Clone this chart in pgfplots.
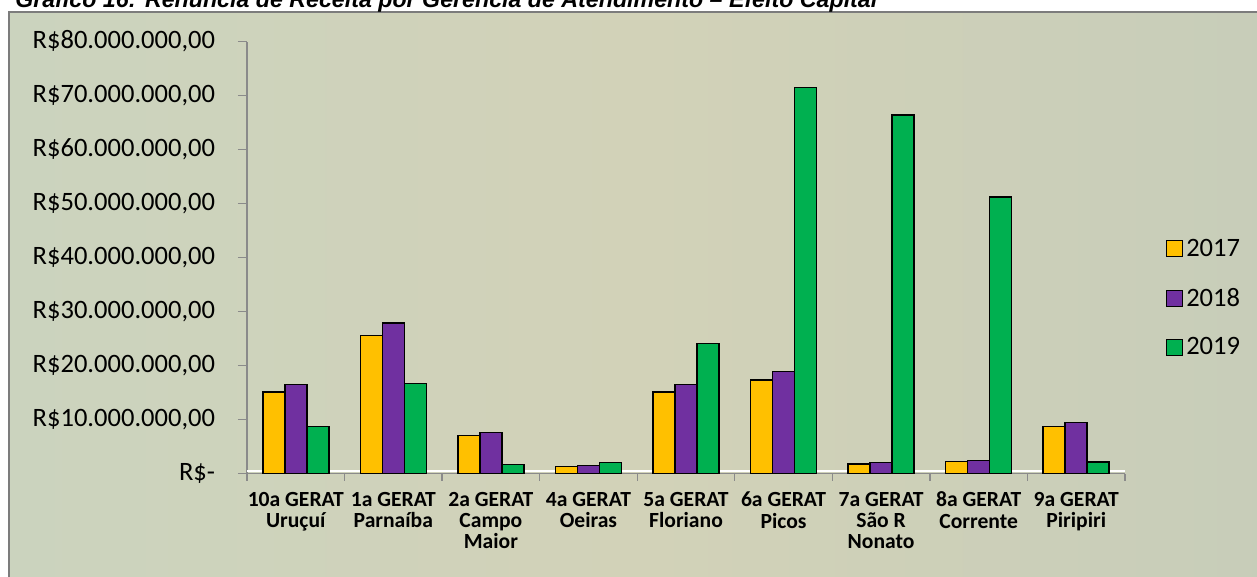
\documentclass[border=0pt]{standalone}
\usepackage{pgfplots}
\pgfplotsset{compat=1.18}
\usepackage{fontspec}
\setmainfont{Carlito}
\newfontfamily\titlefont{Liberation Sans}

\definecolor{c2017}{HTML}{FFC000}
\definecolor{c2018}{HTML}{7030A0}
\definecolor{c2019}{HTML}{00B050}
\definecolor{axisgray}{HTML}{8A8A8A}
\definecolor{bgA}{RGB}{203,211,190}
\definecolor{bgB}{RGB}{210,210,184}
\definecolor{bgC}{RGB}{199,205,185}

% Renúncia de receita (R$ milhões) por GERAT
\pgfplotstableread{
idx y2017 y2018 y2019
0   15.1  16.5   8.7
1   25.6  27.9  16.7
2    7.0   7.6   1.7
3    1.3   1.5   2.0
4   15.1  16.5  24.1
5   17.3  18.9  71.5
6    1.8   2.0  66.4
7    2.2   2.4  51.2
8    8.7   9.4   2.1
}\gerat

\pgfplotsset{
  sq legend/.style={legend image code/.code={%
    \draw[##1,line width=0.8pt] (0pt,-6pt) rectangle (12pt,6pt);}},
}

\begin{document}
\begin{tikzpicture}
% page: 942.75pt x 432pt, origin at top-left corner
\useasboundingbox (0,0) rectangle (942.75pt,-432pt);

% chart area background with frame on top and left
\shade[left color=bgA, right color=bgC, middle color=bgB]
  (6.75pt,-9pt) rectangle (960pt,-450pt);
\draw[axisgray!90!black, line width=1.5pt]
  (6.75pt,-450pt) -- (6.75pt,-9pt) -- (960pt,-9pt);

% caption above the chart
\node[anchor=base west, inner sep=0pt,
      font=\titlefont\bfseries\itshape\fontsize{17.4}{20}\selectfont]
  at (11.25pt,-5.8pt)
  {Gráfico 16: Renúncia de Receita por Gerência de Atendimento – Efeito Capital};

\begin{axis}[
  at={(185.25pt,-355.125pt)}, anchor=south west,
  scale only axis, width=658.5pt, height=324pt,
  xmin=-0.5, xmax=8.5, ymin=0, ymax=80,
  ybar=0pt, bar width=16.5pt,
  axis lines*=left,
  axis line style={draw=axisgray, line width=1.3pt},
  tick align=outside,
  major tick length=6.75pt,
  ytick={0,10,...,80},
  yticklabels={R\$-,{R\$10.000.000,00},{R\$20.000.000,00},{R\$30.000.000,00},
    {R\$40.000.000,00},{R\$50.000.000,00},{R\$60.000.000,00},{R\$70.000.000,00},
    {R\$80.000.000,00}},
  ytick style={draw=axisgray, line width=1pt},
  yticklabel style={font=\fontsize{19.9}{23}\selectfont, inner sep=0pt, xshift=-17pt},
  xtick={0,...,8},
  xticklabels={{10a GERAT\\Uruçuí},{1a GERAT\\Parnaíba},{2a GERAT\\Campo\\Maior},
    {4a GERAT\\Oeiras},{5a GERAT\\Floriano},{6a GERAT\\Picos},
    {7a GERAT\\São R\\Nonato},{8a GERAT\\Corrente},{9a GERAT\\Piripiri}},
  xtick style={draw=none},
  xticklabel style={font=\bfseries\fontsize{16.2}{16.1}\selectfont, align=center,
    inner sep=0pt, yshift=-6.8pt},
  extra x ticks={-0.5,0.5,...,8.5},
  extra x tick labels={},
  extra x tick style={xtick style={draw=axisgray, line width=1pt}, major tick length=5.25pt},
  legend style={draw=none, fill=none, at={(1.0467,0.406)}, anchor=west,
    inner sep=0pt, row sep=17.8pt,
    font=\fontsize{19.9}{23}\selectfont,
    nodes={inner sep=2.2pt}},
  legend cell align=left,
  clip=false,
]
\draw[white, line width=1.3pt] ([yshift=1.7pt]axis cs:-0.5,0) -- ([yshift=1.7pt]axis cs:8.5,0);
\addplot[fill=c2017, draw=black, line width=1.1pt, sq legend] table[x=idx, y=y2017] {\gerat};
\addplot[fill=c2018, draw=black, line width=1.1pt, sq legend] table[x=idx, y=y2018] {\gerat};
\addplot[fill=c2019, draw=black, line width=1.1pt, sq legend] table[x=idx, y=y2019] {\gerat};
\legend{2017,2018,2019}
\end{axis}
\end{tikzpicture}
\end{document}
